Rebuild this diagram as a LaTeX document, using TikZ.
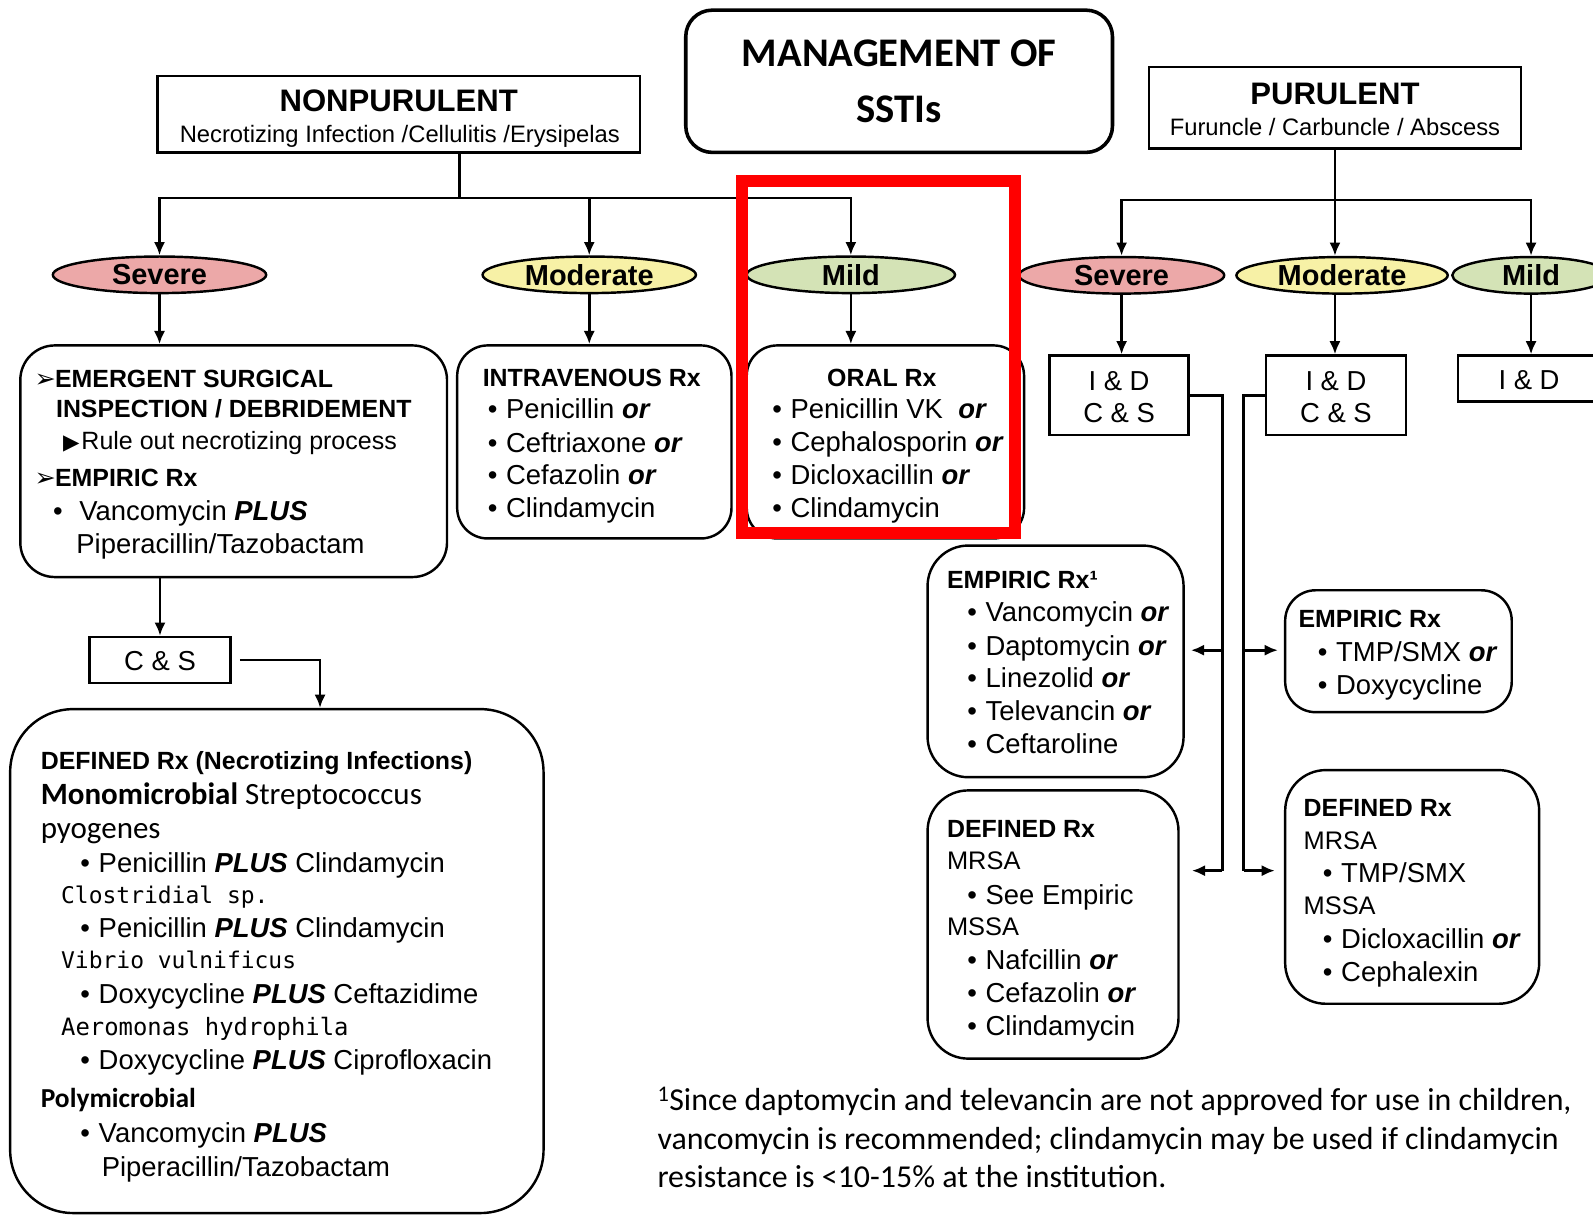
\documentclass[tikz,border=0pt]{standalone}
\usepackage{fontspec}
\setmainfont{Liberation Sans}
\newfontfamily\carl{Carlito}
\newfontfamily\monof{DejaVu Sans Mono}
\newfontfamily\dejav{DejaVu Sans}
\usetikzlibrary{shapes.geometric,arrows.meta}
\newcommand\fsz[1]{\fontsize{#1}{#1}\selectfont}
\newcommand\orr{\textbf{\textit{or}}}
\newcommand\pls{\textbf{\textit{PLUS}}}
\newcommand\bul{\makebox[18pt][l]{\textbullet}}
\newcommand\chev{{\dejav\mdseries\fsz{25}\makebox[20pt][l]{➢}}}
\definecolor{sevc}{RGB}{236,168,168}
\definecolor{modc}{RGB}{247,241,166}
\definecolor{mildc}{RGB}{212,227,182}
\definecolor{hlred}{RGB}{255,0,0}
\tikzset{
  ln/.style={line width=2.6pt, draw=black},
  arr/.style={ln, -{Latex[length=13pt,width=11pt]}},
  bx/.style={draw, line width=2.4pt, inner sep=0pt},
  rbx/.style={bx, rounded corners=34pt},
  ell/.style={ellipse, draw, line width=2.4pt, inner sep=0pt, minimum height=36pt, font=\fsz{28.5}\bfseries},
  tx/.style={anchor=base west, inner sep=0pt, font=\fsz{27}},
  hd/.style={anchor=base west, inner sep=0pt, font=\fsz{24.5}\bfseries},
  ctr/.style={anchor=base, inner sep=0pt},
}
\begin{document}
\begin{tikzpicture}[x=1pt,y=-1pt]
\useasboundingbox (0,0) rectangle (1568,1196);
\clip (0,0) rectangle (1568,1196);
\fill[white] (0,0) rectangle (1568,1196);

% ---------- title and category boxes
\node[bx, line width=3.5pt, rounded corners=26pt, minimum width=420pt, minimum height=140pt] (ttl) at (885,80) {};
\node[ctr, font=\carl\bfseries\fsz{40}] (t1) at (885,65) {MANAGEMENT OF};
\node[ctr, font=\carl\bfseries\fsz{40}] (t2) at (885,121) {SSTIs};

\node[bx, minimum width=475pt, minimum height=75pt] (nonp) at (392.5,112.5) {};
\node[ctr, font=\fsz{30.6}\bfseries] (np1) at (392.5,110) {NONPURULENT};
\node[ctr, font=\fsz{23.4}] (np2) at (393.5,140) {Necrotizing Infection /Cellulitis /Erysipelas};

\node[bx, minimum width=366pt, minimum height=80pt] (pur) at (1314,106) {};
\node[ctr, font=\fsz{30.6}\bfseries] (pu1) at (1314,103) {PURULENT};
\node[ctr, font=\fsz{23.4}] (pu2) at (1314,133) {Furuncle / Carbuncle / Abscess};

% ---------- severity ellipses
\node[ell, fill=sevc,  minimum width=210pt] (eSL) at (157,270.5) {Severe};
\node[ell, fill=modc,  minimum width=210pt] (eML) at (580,270.5) {Moderate};
\node[ell, fill=mildc, minimum width=205pt] (eLL) at (837.5,270.5) {Mild};
\node[ell, fill=sevc,  minimum width=202pt] (eSR) at (1104,271) {Severe};
\node[ell, fill=modc,  minimum width=208pt] (eMR) at (1321,271) {Moderate};
\node[ell, fill=mildc, minimum width=155pt] (eLR) at (1507,271) {Mild};

% ---------- nonpurulent boxes
\node[rbx, minimum width=420pt, minimum height=228pt] (bSev) at (230,454) {};
\node[hd] (a1) at (34,381) {\chev EMERGENT SURGICAL};
\node[hd] (a2) at (55,411) {INSPECTION / DEBRIDEMENT};
\node[anchor=base west, inner sep=0pt, font=\fsz{24.6}] (a3) at (62,442) {{\dejav\fsz{21}\makebox[18pt][l]{▶}}Rule out necrotizing process};
\node[hd] (a4) at (34,479) {\chev EMPIRIC Rx};
\node[tx] (a5) at (52,512) {\makebox[26pt][l]{\textbullet}Vancomycin \pls};
\node[tx] (a6) at (75,545) {Piperacillin/Tazobactam};

\node[rbx, rounded corners=30pt, minimum width=270pt, minimum height=190pt] (bMod) at (585,435) {};
\node[hd] (b1) at (475,380) {INTRAVENOUS Rx};
\node[tx] (b2) at (480,412) {\bul Penicillin \orr};
\node[tx] (b3) at (480,445) {\bul Ceftriaxone \orr};
\node[tx] (b4) at (480,477) {\bul Cefazolin \orr};
\node[tx] (b5) at (480,509) {\bul Clindamycin};

\node[rbx, rounded corners=30pt, minimum width=273pt, minimum height=190pt] (bMild) at (871.5,435) {};
\node[ctr, font=\fsz{24.5}\bfseries] (c1) at (868,380) {ORAL Rx};
\node[tx] (c2) at (760,412) {\bul Penicillin VK\ \ \orr};
\node[tx] (c3) at (760,444) {\bul Cephalosporin \orr};
\node[tx] (c4) at (760,477) {\bul Dicloxacillin \orr};
\node[tx] (c5) at (760,509) {\bul Clindamycin};

\node[bx, minimum width=139pt, minimum height=45pt] (bCS) at (157.5,649.5) {};
\node[ctr, font=\fsz{27}] (i6) at (157.5,660) {C \& S};

\node[rbx, rounded corners=62pt, minimum width=525pt, minimum height=496pt] (bDef) at (272.5,946) {};
\node[anchor=base west, inner sep=0pt, font=\fsz{24.5}\bfseries] (d1) at (40,757) {DEFINED Rx (Necrotizing Infections)};
\node[anchor=base west, inner sep=0pt, font=\carl\fsz{30.5}] (d2) at (40,792) {{\bfseries Monomicrobial} Streptococcus};
\node[anchor=base west, inner sep=0pt, font=\carl\fsz{30.5}] (d3) at (40,825) {pyogenes};
\node[tx] (d4) at (79,859) {\bul Penicillin \pls{} Clindamycin};
\node[anchor=base west, inner sep=0pt, font=\monof\fsz{22.6}] (d5) at (60,889) {Clostridial sp.};
\node[tx] (d6) at (79,923) {\bul Penicillin \pls{} Clindamycin};
\node[anchor=base west, inner sep=0pt, font=\monof\fsz{22.6}] (d7) at (60,953) {Vibrio vulnificus};
\node[tx] (d8) at (79,988) {\bul Doxycycline \pls{} Ceftazidime};
\node[anchor=base west, inner sep=0pt, font=\monof\fsz{23.5}] (d9) at (60,1019) {Aeromonas hydrophila};
\node[tx] (d10) at (79,1053) {\bul Doxycycline \pls{} Ciprofloxacin};
\node[anchor=base west, inner sep=0pt, font=\carl\bfseries\fsz{27}] (d11) at (40,1090) {Polymicrobial};
\node[tx] (d12) at (79,1125) {\bul Vancomycin \pls};
\node[tx] (d13) at (100,1158) {Piperacillin/Tazobactam};

% ---------- purulent boxes
\node[bx, minimum width=137pt, minimum height=78pt] (bIDs) at (1101.5,389) {};
\node[ctr, font=\fsz{27}] (i1) at (1101.5,384) {I \& D};
\node[ctr, font=\fsz{27}] (i2) at (1101.5,416) {C \& S};
\node[bx, minimum width=138pt, minimum height=78pt] (bIDm) at (1315,389) {};
\node[ctr, font=\fsz{27}] (i3) at (1315,384) {I \& D};
\node[ctr, font=\fsz{27}] (i4) at (1315,416) {C \& S};
\node[bx, minimum width=145pt, minimum height=45pt] (bIDl) at (1507.5,372.5) {};
\node[ctr, font=\fsz{27}] (i5) at (1505,383) {I \& D};

\node[rbx, rounded corners=40pt, minimum width=252pt, minimum height=228pt] (bEmpM) at (1039,651) {};
\node[hd] (e1) at (932,579) {EMPIRIC Rx¹};
\node[tx] (e2) at (952,612) {\bul Vancomycin \orr};
\node[tx] (e3) at (952,645) {\bul Daptomycin \orr};
\node[tx] (e4) at (952,677) {\bul Linezolid \orr};
\node[tx] (e5) at (952,709) {\bul Televancin \orr};
\node[tx] (e6) at (952,742) {\bul Ceftaroline};

\node[rbx, rounded corners=40pt, minimum width=247pt, minimum height=264pt] (bDefM) at (1036.5,910) {};
\node[hd] (f1) at (932,824) {DEFINED Rx};
\node[anchor=base west, inner sep=0pt, font=\fsz{25}] (f2) at (932,856) {MRSA};
\node[tx] (f3) at (952,890) {\bul See Empiric};
\node[anchor=base west, inner sep=0pt, font=\fsz{25}] (f4) at (932,921) {MSSA};
\node[tx] (f5) at (952,954) {\bul Nafcillin \orr};
\node[tx] (f6) at (952,987) {\bul Cefazolin \orr};
\node[tx] (f7) at (952,1019) {\bul Clindamycin};

\node[rbx, rounded corners=30pt, minimum width=223pt, minimum height=120pt] (bEmpR) at (1376.5,641) {};
\node[hd] (g1) at (1278,618) {EMPIRIC Rx};
\node[tx] (g2) at (1297,651) {\bul TMP/SMX \orr};
\node[tx] (g3) at (1297,684) {\bul Doxycycline};

\node[rbx, rounded corners=40pt, minimum width=250pt, minimum height=230pt] (bDefR) at (1390,873) {};
\node[hd] (h1) at (1283,804) {DEFINED Rx};
\node[anchor=base west, inner sep=0pt, font=\fsz{25}] (h2) at (1283,836) {MRSA};
\node[tx] (h3) at (1302,869) {\bul TMP/SMX};
\node[anchor=base west, inner sep=0pt, font=\fsz{25}] (h4) at (1283,900) {MSSA};
\node[tx] (h5) at (1302,934) {\bul Dicloxacillin \orr};
\node[tx] (h6) at (1302,966) {\bul Cephalexin};

% ---------- footnote
\node[anchor=base west, inner sep=0pt, font=\carl\fsz{31.4}] (n1) at (647,1093) {\textsuperscript{1}Since daptomycin and televancin are not approved for use in children,};
\node[anchor=base west, inner sep=0pt, font=\carl\fsz{31.4}] (n2) at (647,1131) {vancomycin is recommended; clindamycin may be used if clindamycin};
\node[anchor=base west, inner sep=0pt, font=\carl\fsz{31.4}] (n3) at (647,1169) {resistance is <10-15\% at the institution.};

% ---------- connectors
\coordinate (jL) at (452,195);
\coordinate (jR) at (1314,197);
\draw[ln] (jL |- nonp.south) -- (jL);
\draw[arr] (jL) -| (eSL.north);
\draw[arr] (jL) -| (eML.north);
\draw[arr] (jL) -| (eLL.north);
\draw[ln] (pur.south) -- (jR);
\draw[arr] (jR) -| (eSR.north);
\draw[arr] (jR) -- (jR |- eMR.north);
\draw[arr] (jR) -| (eLR.north);

\draw[arr] (eSL.south) -- (eSL.south |- bSev.north);
\draw[arr] (eML.south) -- (eML.south |- bMod.north);
\draw[arr] (eLL.south) -- (eLL.south |- bMild.north);
\draw[arr] (eSR.south) -- (eSR.south |- bIDs.north);
\draw[arr] (eMR.south -| jR) -- (jR |- bIDm.north);
\draw[arr] (eLR.south) -- (eLR.south |- bIDl.north);

\draw[arr] (bSev.south -| bCS.north) -- (bCS.north);
\draw[arr, shorten <=8pt] (bCS.east) -| ([xshift=42.5pt]bDef.north);

\coordinate (sM) at (1203,640);
\coordinate (sB) at (1203,857);
\coordinate (mM) at (1224,640);
\coordinate (mB) at (1224,857);
\draw[ln] (bIDs.east) -| (sB);
\draw[arr, shorten >=12pt] (sB) -- (sB -| bDefM.east);
\draw[arr, shorten >=6pt] (sM) -- (sM -| bEmpM.east);
\draw[ln] (bIDm.west) -| (mB);
\draw[arr, shorten >=9pt] (mB) -- (mB -| bDefR.west);
\draw[arr, shorten >=6pt] (mM) -- (mM -| bEmpR.west);

% ---------- red highlight
\node[draw=hlred, line width=12pt, inner sep=0pt, minimum width=269pt, minimum height=347pt] (hl) at (864.5,351.5) {};
\end{tikzpicture}
\end{document}
